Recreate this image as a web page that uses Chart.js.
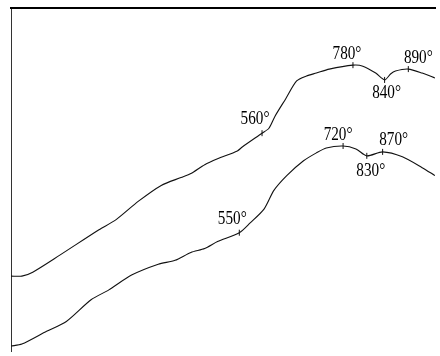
<!DOCTYPE html>
<html>
<head>
<meta charset="utf-8">
<script src="https://cdn.jsdelivr.net/npm/chart.js@4/dist/chart.umd.min.js"></script>
<style>
  html, body { margin: 0; padding: 0; background: #fff; }
  #wrap { width: 440px; height: 356px; }
</style>
</head>
<body>
<div id="wrap"><canvas id="c"></canvas></div>
<script>
// Upper thermal curve (arbitrary units)
const upperX = [0, 11, 22, 49, 89, 106, 129, 152, 172, 182, 196, 209, 229, 234, 254, 261, 267, 278, 289, 299, 309, 322, 346, 356, 369, 378, 384, 389, 402, 416, 429];
const upperY = [76, 76, 80, 97, 123, 133, 152, 168, 176, 180, 189, 195, 203, 207, 221, 226, 238, 256, 274, 279, 282, 286, 290, 289, 282, 275, 281, 284, 286, 282, 277];
// Lower thermal curve
const lowerX = [0, 11, 36, 56, 81, 99, 122, 149, 166, 182, 196, 209, 231, 242, 256, 266, 279, 296, 309, 319, 336, 349, 360, 376, 396, 416, 429];
const lowerY = [5, 7, 20, 30, 52, 62, 77, 88, 92, 100, 104, 111, 120, 130, 144, 163, 178, 193, 201, 206, 208, 205, 198, 202, 197, 186, 178];

// Marked points (index into the series) and their temperatures
const upperMarkIdx = [14, 22, 25, 28];
const upperTemps = [560, 780, 840, 890];
const lowerMarkIdx = [12, 20, 22, 23];
const lowerTemps = [550, 720, 830, 870];

const toPts = (xs, ys) => xs.map((x, i) => ({ x, y: ys[i] }));
const marks = (xs, ys, idx, temps) => idx.map((k, j) => ({ x: xs[k], y: ys[k], t: temps[j] }));

// Label placement relative to each marked point (px)
const upperLabelOffsets = [[-7, -15], [-6, -12], [2, 12], [10, -12]];
const lowerLabelOffsets = [[-7, -15], [-5, -12], [4, 14], [11, -13]];

const curveStyle = {
  showLine: true, borderColor: '#111', borderWidth: 1.1, pointRadius: 0,
  tension: 0.25, fill: false
};
const markStyle = {
  showLine: false, pointStyle: 'line', pointRotation: 90, pointRadius: 3,
  borderColor: '#111', pointBorderWidth: 1
};

const tempLabels = {
  id: 'tempLabels',
  afterDatasetsDraw(chart) {
    const ctx = chart.ctx;
    const sets = [[2, upperLabelOffsets], [3, lowerLabelOffsets]];
    ctx.save();
    ctx.fillStyle = '#000';
    ctx.font = '19px "Liberation Serif", "Times New Roman", serif';
    ctx.textAlign = 'center';
    ctx.textBaseline = 'middle';
    sets.forEach(([di, offs]) => {
      const ds = chart.data.datasets[di];
      const meta = chart.getDatasetMeta(di);
      meta.data.forEach((el, j) => {
        const cx = el.x + offs[j][0];
        const cy = el.y + offs[j][1];
        ctx.save();
        ctx.translate(cx, cy);
        ctx.scale(0.8, 1);
        ctx.fillText(ds.data[j].t + '°', 0, 1);
        ctx.restore();
      });
    });
    ctx.restore();
  }
};

new Chart(document.getElementById('c'), {
  type: 'scatter',
  data: {
    datasets: [
      Object.assign({ data: toPts(upperX, upperY) }, curveStyle),
      Object.assign({ data: toPts(lowerX, lowerY) }, curveStyle),
      Object.assign({ data: marks(upperX, upperY, upperMarkIdx, upperTemps) }, markStyle),
      Object.assign({ data: marks(lowerX, lowerY, lowerMarkIdx, lowerTemps) }, markStyle)
    ]
  },
  options: {
    responsive: true,
    maintainAspectRatio: false,
    animation: false,
    layout: { padding: { left: 11, top: 8, right: 0, bottom: 0 } },
    plugins: { legend: { display: false }, tooltip: { enabled: false } },
    scales: {
      x: { type: 'linear', min: 0, max: 429, display: false },
      y: {
        type: 'linear', min: 0, max: 348, position: 'left',
        grid: { display: false, drawTicks: false },
        border: { display: true, color: '#333', width: 1 },
        ticks: { display: false },
        afterFit(s) { s.width = 0; }
      },
      top: {
        type: 'linear', position: 'top', axis: 'x', min: 0, max: 429,
        grid: { display: false, drawTicks: false },
        border: { display: true, color: '#000', width: 2 },
        ticks: { display: false },
        afterFit(s) { s.height = 0; }
      }
    }
  },
  plugins: [tempLabels]
});
</script>
</body>
</html>
